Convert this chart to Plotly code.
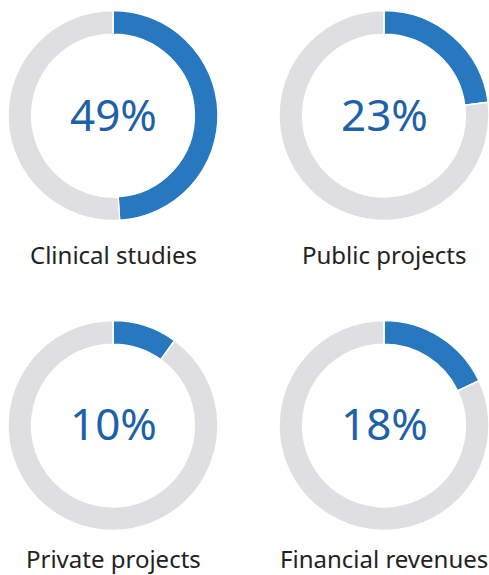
import plotly.graph_objects as go

categories = ["Clinical studies", "Public projects", "Private projects", "Financial revenues"]
shares = [49, 23, 10, 18]
pct_labels = ["49%", "23%", "10%", "18%"]

W, H = 489, 575
# pixel boxes (left, right, top, bottom) for each donut
boxes = [(8, 218, 10, 221), (279, 489, 10, 221), (8, 218, 320, 531), (279, 489, 320, 531)]
label_y = [254, 254, 558, 558]

fig = go.Figure()
for cat, val, pl, (l, r, t, b), ly in zip(categories, shares, pct_labels, boxes, label_y):
    fig.add_trace(go.Pie(
        values=[val, 100 - val],
        labels=[cat, "rest"],
        hole=0.775,
        sort=False,
        direction="clockwise",
        rotation=0,
        marker=dict(colors=["#2878c0", "#dfdfe1"], line=dict(color="white", width=1.5)),
        textinfo="none",
        hoverinfo="skip",
        showlegend=False,
        domain=dict(x=[l / W, r / W], y=[1 - b / H, 1 - t / H]),
    ))
    cx = (l + r) / 2
    cy = (t + b) / 2 - 2
    fig.add_annotation(x=cx / W, y=1 - cy / H, xref="paper", yref="paper",
                       text=pl, showarrow=False,
                       font=dict(family="Noto Sans", size=44, color="#1d62a8"),
                       xanchor="center", yanchor="middle")
    fig.add_annotation(x=cx / W, y=1 - ly / H, xref="paper", yref="paper",
                       text=cat, showarrow=False,
                       font=dict(family="Noto Sans", size=24, color="#222222"),
                       xanchor="center", yanchor="middle")

fig.update_layout(width=W, height=H, margin=dict(l=0, r=0, t=0, b=0),
                  paper_bgcolor="white", plot_bgcolor="white")
fig.write_html("out.html", config={"displayModeBar": False},
               post_script="document.body.style.margin='0';document.body.style.overflow='hidden';")
